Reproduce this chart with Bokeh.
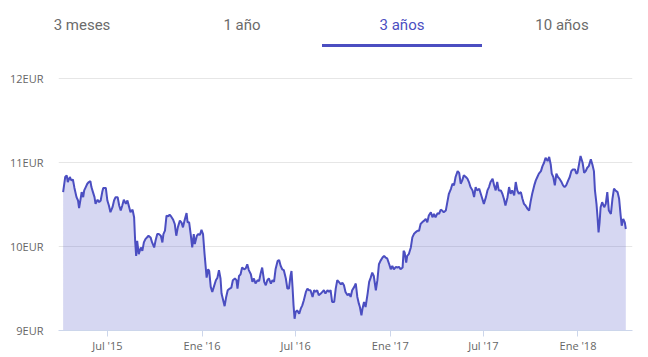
import pandas as pd
from bokeh.plotting import figure
from bokeh.layouts import column
from bokeh.models import ColumnDataSource, FixedTicker, Range1d, Div
from bokeh.embed import file_html
from bokeh.resources import INLINE

# ---------------- data ----------------
tabs = ["3 meses", "1 año", "3 años", "10 años"]
active_tab = 2

base_date = "2015-07-01"
# days since base_date
days = [-86,-82,-79,-77,-73,-70,-67,-64,-60,-57,-55,-52,-50,-47,-45,-42,-39,-36,-33,-31,
        -28,-25,-23,-19,-16,-13,-10,-8,-3,0,3,6,10,13,16,20,23,26,29,32,
        36,39,42,45,49,52,54,56,58,61,65,68,71,74,80,84,87,91,94,
        97,100,104,107,109,112,115,118,121,124,128,131,134,137,141,144,147,150,154,156,
        159,162,165,168,170,174,177,180,183,186,189,193,196,198,201,204,207,211,214,217,
        220,222,226,228,231,234,238,241,244,248,251,253,256,259,262,266,269,272,275,279,
        282,285,288,292,295,298,301,305,308,311,314,318,321,324,327,331,334,337,340,343,
        347,350,353,356,358,360,362,364,366,369,373,376,379,382,386,389,392,395,399,402,
        405,408,411,415,418,421,424,428,431,434,437,441,444,447,450,454,457,
        460,463,467,470,473,476,480,483,486,489,491,494,496,499,502,506,509,512,515,518,
        522,525,528,531,535,538,541,544,548,551,554,557,561,564,567,570,574,576,578,581,
        583,586,590,593,596,599,603,606,609,612,616,619,622,625,629,632,635,638,642,645,648,
        651,654,658,661,664,668,671,674,677,681,684,687,690,693,697,700,703,706,710,713,
        716,719,723,726,729,732,736,739,742,745,749,752,755,758,761,765,768,771,774,778,
        781,784,787,791,794,797,800,804,807,810,813,817,820,823,826,830,833,
        836,839,843,846,849,852,856,859,862,864,867,870,873,876,879,883,886,889,892,896,
        899,902,905,909,912,914,917,920,924,927,930,933,936,940,943,946,948,951,953,955,
        957,959,962,966,969,972,975,979,982,985,988,992,995,998,1000,1003,1006,1008]

price = [10.65,10.83,10.85,10.77,10.83,10.79,10.80,10.70,10.59,10.55,10.46,10.57,10.65,10.59,10.67,10.71,10.75,10.77,10.78,10.71,
         10.65,10.59,10.51,10.56,10.53,10.55,10.65,10.70,10.70,10.55,10.49,10.41,10.47,10.55,10.59,10.59,10.49,10.43,10.49,10.56,
         10.51,10.55,10.48,10.41,10.44,10.35,10.07,9.89,10.07,9.91,9.99,9.95,10.05,10.09,10.13,10.11,10.05,9.99,10.08,
         10.15,10.15,10.13,10.05,10.15,10.19,10.37,10.36,10.38,10.36,10.32,10.27,10.13,10.23,10.31,10.29,10.23,10.31,10.40,10.29,
         10.29,10.15,9.99,10.15,10.03,10.13,10.15,10.14,10.20,10.15,9.91,9.63,9.73,9.71,9.52,9.46,9.52,9.60,9.63,9.72,
         9.62,9.44,9.34,9.29,9.40,9.48,9.50,9.51,9.60,9.62,9.60,9.50,9.65,9.67,9.75,9.73,9.74,9.79,9.72,9.67,
         9.58,9.62,9.56,9.60,9.59,9.68,9.75,9.58,9.54,9.60,9.62,9.56,9.60,9.58,9.73,9.83,9.84,9.77,9.73,9.72,
         9.62,9.50,9.50,9.65,9.71,9.52,9.30,9.14,9.22,9.24,9.20,9.26,9.30,9.36,9.46,9.50,9.48,9.48,9.40,9.48,
         9.46,9.48,9.42,9.44,9.46,9.48,9.44,9.48,9.46,9.48,9.34,9.34,9.50,9.60,9.58,9.55,9.57,
         9.54,9.46,9.42,9.44,9.40,9.48,9.52,9.56,9.40,9.32,9.28,9.18,9.26,9.34,9.28,9.44,9.58,9.63,9.69,9.65,
         9.48,9.60,9.79,9.83,9.87,9.89,9.87,9.86,9.79,9.73,9.77,9.73,9.76,9.75,9.76,9.73,9.75,9.95,9.93,9.81,
         9.89,9.91,9.99,10.11,10.15,10.17,10.19,10.19,10.27,10.29,10.31,10.33,10.29,10.37,10.41,10.35,10.39,10.35,10.40,10.39,10.44,
         10.43,10.41,10.43,10.53,10.63,10.69,10.75,10.73,10.83,10.90,10.88,10.75,10.79,10.85,10.83,10.81,10.77,10.71,10.67,10.59,
         10.71,10.67,10.69,10.63,10.57,10.51,10.59,10.67,10.71,10.77,10.81,10.73,10.67,10.77,10.67,10.67,10.63,10.57,10.49,10.59,
         10.71,10.63,10.67,10.61,10.77,10.67,10.63,10.65,10.57,10.51,10.49,10.45,10.43,10.54,10.63,10.73,10.79,
         10.83,10.87,10.90,10.96,11.00,11.06,11.02,11.07,10.98,10.87,10.83,10.73,10.87,10.83,10.81,10.77,10.73,10.71,10.73,10.79,
         10.83,10.90,10.92,10.92,10.87,10.88,10.98,11.08,11.00,10.88,10.90,10.94,10.96,11.04,10.98,10.90,10.67,10.51,10.35,10.17,
         10.29,10.47,10.53,10.47,10.51,10.65,10.43,10.39,10.57,10.69,10.67,10.65,10.57,10.37,10.25,10.33,10.29,10.21]

x_tick_dates = ["2015-07-01", "2016-01-01", "2016-07-01", "2017-01-01", "2017-07-01", "2018-01-01"]
x_tick_labels = ["Jul '15", "Ene '16", "Jul '16", "Ene '17", "Jul '17", "Ene '18"]
y_ticks = [9, 10, 11, 12]
y_tick_labels = ["9EUR", "10EUR", "11EUR", "12EUR"]

# ---------------- styles ----------------
LINE = "#4b4ec1"
FILL = "#5558c8"
FILL_ALPHA = 0.24
GRAY = "#666666"
TAB_GRAY = "#6b6b6b"
AXIS = "#ccd6eb"
GRID = "#e6e6e6"
W = 648
BL, BR = 58, 16
TAB_H = 70
MAIN_H = 287

dates = pd.Timestamp(base_date) + pd.to_timedelta(days, unit="D")
src = ColumnDataSource(dict(date=dates, price=price))

# ---------------- tab header (HTML) ----------------
tab_w = 160
tab_off = 2
parts = ['<div style="position:relative;width:%dpx;height:%dpx;font-family:Roboto;'
         'font-size:15px;line-height:18px;">' % (W, TAB_H)]
for i, t in enumerate(tabs):
    col = LINE if i == active_tab else TAB_GRAY
    parts.append('<div style="position:absolute;left:%dpx;top:16px;width:%dpx;'
                 'text-align:center;color:%s;">%s</div>' % (tab_off + tab_w * i, tab_w, col, t))
parts.append('<div style="position:absolute;left:%dpx;top:44px;width:%dpx;height:3px;'
             'background:%s;"></div>' % (tab_off + tab_w * active_tab, tab_w, LINE))
parts.append('</div>')
header = Div(text="".join(parts), width=W, height=TAB_H, margin=0)

# ---------------- main chart ----------------
p = figure(width=W, height=MAIN_H, x_axis_type="datetime", output_backend="svg",
           toolbar_location=None, min_border_left=BL, min_border_right=BR,
           min_border_top=0, min_border_bottom=MAIN_H - 260, outline_line_color=None)
p.x_range = Range1d(dates[0] - pd.Timedelta(days=9), dates[-1] + pd.Timedelta(days=13))
p.y_range = Range1d(9, 12.1)

p.varea(x="date", y1=9, y2="price", source=src, fill_color=FILL, fill_alpha=FILL_ALPHA)
p.line(x="date", y="price", source=src, line_color=LINE, line_width=2)

tick_ms = [pd.Timestamp(d).value // 10**6 for d in x_tick_dates]
p.xaxis.ticker = FixedTicker(ticks=tick_ms)
p.xaxis.major_label_overrides = {float(t): l for t, l in zip(tick_ms, x_tick_labels)}
p.xaxis.axis_line_color = AXIS
p.xaxis.major_tick_line_color = AXIS
p.xaxis.major_tick_out = 6
p.xaxis.major_tick_in = 0
p.xaxis.minor_tick_line_color = None
p.xaxis.major_label_standoff = 1

p.yaxis.ticker = FixedTicker(ticks=y_ticks)
p.yaxis.major_label_overrides = {t: l for t, l in zip(y_ticks, y_tick_labels)}
p.yaxis.axis_line_color = None
p.yaxis.major_tick_line_color = None
p.yaxis.minor_tick_line_color = None
p.yaxis.major_tick_out = 0
p.yaxis.major_label_standoff = 15

for ax in (p.xaxis, p.yaxis):
    ax.major_label_text_font = "Open Sans"
    ax.major_label_text_font_size = "11px"
    ax.major_label_text_color = GRAY

p.xgrid.grid_line_color = None
p.ygrid.grid_line_color = GRID

layout = column(header, p, spacing=0)
open("out.html", "w").write(file_html(layout, INLINE))
